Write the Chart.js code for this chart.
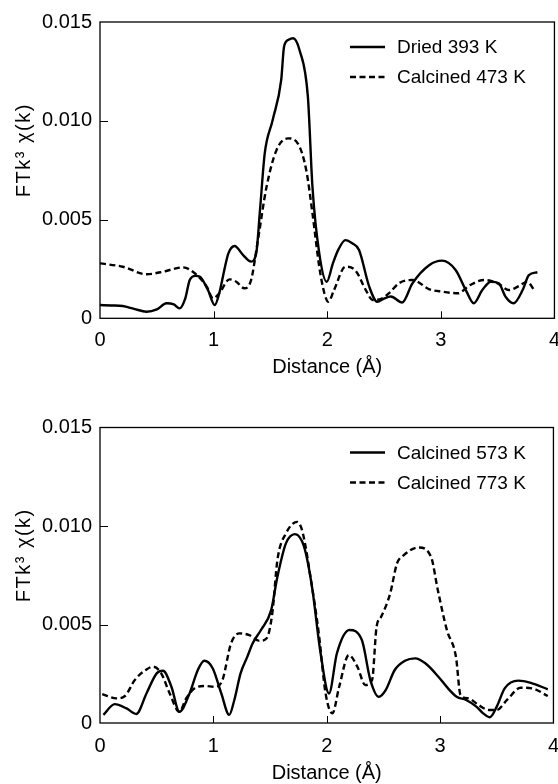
<!DOCTYPE html>
<html>
<head>
<meta charset="utf-8">
<script src="https://cdn.jsdelivr.net/npm/chart.js@4.4.0/dist/chart.umd.min.js"></script>
<style>
  html, body { margin: 0; padding: 0; background: #fff; overflow: hidden; }
  body { width: 558px; height: 784px; position: relative; }
  canvas { position: absolute; left: 0; }
  #chartTop { top: 0; }
  #chartBottom { top: 392px; }
</style>
</head>
<body>
<canvas id="chartTop" width="570" height="392"></canvas>
<canvas id="chartBottom" width="570" height="400"></canvas>
<script>
// values, distance in Å
const dried393Dist = [0, 0.1, 0.2, 0.3, 0.41, 0.5, 0.585, 0.65, 0.70, 0.75, 0.79, 0.84, 0.88, 0.95, 1.01, 1.05, 1.1, 1.13, 1.185, 1.26, 1.33, 1.375, 1.41, 1.45, 1.52, 1.595, 1.62, 1.66, 1.70, 1.756, 1.83, 1.87, 1.93, 1.996, 2.05, 2.1, 2.16, 2.22, 2.28, 2.37, 2.44, 2.5, 2.56, 2.66, 2.75, 2.9, 3.01, 3.13, 3.22, 3.29, 3.365, 3.44, 3.51, 3.57, 3.64, 3.72, 3.775, 3.85]
const dried393Val = [0.00067, 0.00065, 0.00062, 0.00048, 0.00033, 0.00045, 0.00076, 0.00070, 0.00050, 0.00100, 0.00194, 0.00215, 0.00210, 0.00143, 0.00067, 0.00127, 0.00260, 0.00329, 0.00366, 0.00320, 0.00287, 0.00329, 0.00560, 0.00835, 0.01004, 0.01207, 0.01375, 0.01410, 0.01418, 0.01358, 0.01120, 0.00666, 0.00329, 0.00185, 0.00278, 0.00350, 0.00396, 0.00380, 0.00346, 0.00160, 0.00084, 0.00100, 0.00110, 0.00080, 0.00177, 0.00270, 0.00292, 0.00245, 0.00143, 0.00076, 0.00143, 0.00185, 0.00177, 0.00109, 0.00076, 0.00143, 0.00219, 0.00233]

const calc473Dist = [0, 0.2, 0.41, 0.556, 0.65, 0.73, 0.834, 0.94, 0.995, 1.05, 1.14, 1.2, 1.27, 1.33, 1.39, 1.466, 1.554, 1.655, 1.74, 1.815, 1.87, 1.93, 1.975, 2.01, 2.06, 2.16, 2.25, 2.34, 2.4, 2.48, 2.55, 2.63, 2.75, 2.9, 3.01, 3.15, 3.26, 3.38, 3.50, 3.60, 3.69, 3.76, 3.83]
const calc473Val = [0.00278, 0.00261, 0.00223, 0.00236, 0.00250, 0.00258, 0.00228, 0.00160, 0.00101, 0.00127, 0.00197, 0.00185, 0.00152, 0.00194, 0.00396, 0.00666, 0.00852, 0.00911, 0.00886, 0.00751, 0.00532, 0.00261, 0.00127, 0.00084, 0.00143, 0.00261, 0.00241, 0.00143, 0.00093, 0.00100, 0.00130, 0.00177, 0.00194, 0.00147, 0.00135, 0.00127, 0.00169, 0.00194, 0.00177, 0.00143, 0.00164, 0.00185, 0.00135]

const calc573Dist = [0.03, 0.13, 0.234, 0.32, 0.41, 0.5, 0.556, 0.63, 0.70, 0.79, 0.863, 0.92, 0.995, 1.07, 1.14, 1.185, 1.24, 1.30, 1.346, 1.42, 1.51, 1.565, 1.64, 1.72, 1.80, 1.87, 1.946, 2.02, 2.09, 2.2, 2.31, 2.385, 2.46, 2.52, 2.6, 2.69, 2.78, 2.87, 2.985, 3.07, 3.146, 3.23, 3.32, 3.38, 3.44, 3.50, 3.57, 3.69, 3.80, 3.95]
const calc573Val = [0.00041, 0.00096, 0.00074, 0.00046, 0.00150, 0.00252, 0.00265, 0.00184, 0.00057, 0.00150, 0.00269, 0.00316, 0.00277, 0.00150, 0.00041, 0.00117, 0.00252, 0.00337, 0.00404, 0.00472, 0.00573, 0.00742, 0.00912, 0.00959, 0.00895, 0.00692, 0.00354, 0.00150, 0.00354, 0.00472, 0.00421, 0.00218, 0.00133, 0.00167, 0.00269, 0.00316, 0.00328, 0.00303, 0.00235, 0.00176, 0.00133, 0.00117, 0.00083, 0.00049, 0.00029, 0.00083, 0.00176, 0.00215, 0.00204, 0.00171]

const calc773Dist = [0.02, 0.146, 0.22, 0.307, 0.41, 0.47, 0.54, 0.615, 0.70, 0.76, 0.834, 0.92, 1.02, 1.08, 1.156, 1.23, 1.317, 1.405, 1.47, 1.52, 1.565, 1.64, 1.74, 1.786, 1.87, 1.93, 1.99, 2.05, 2.11, 2.195, 2.27, 2.34, 2.40, 2.44, 2.48, 2.56, 2.62, 2.68, 2.81, 2.92, 2.98, 3.06, 3.14, 3.18, 3.25, 3.34, 3.43, 3.50, 3.59, 3.71, 3.81, 3.95]
const calc773Val = [0.00147, 0.00125, 0.00137, 0.00218, 0.00272, 0.00286, 0.00252, 0.00150, 0.00057, 0.00125, 0.00176, 0.00188, 0.00184, 0.00218, 0.00404, 0.00455, 0.00446, 0.00417, 0.00430, 0.00557, 0.00827, 0.00962, 0.01021, 0.00971, 0.00692, 0.00455, 0.00150, 0.00049, 0.00184, 0.00345, 0.00286, 0.00193, 0.00218, 0.00489, 0.00539, 0.00658, 0.00810, 0.00852, 0.00891, 0.00844, 0.00675, 0.00472, 0.00336, 0.00142, 0.00125, 0.00091, 0.00066, 0.00066, 0.00117, 0.00179, 0.00176, 0.00137]

const xTitle = 'Distance (Å)'
const yTitle = 'FTk³ χ(k)'
const fontFamily = '"Liberation Sans", Arial, Helvetica, sans-serif'

Chart.defaults.font.family = fontFamily
Chart.defaults.font.size = 20
Chart.defaults.color = '#000'

function points(xs, ys) {
  return xs.map((d, i) => ({x: d, y: ys[i]}))
}

function series(label, xs, ys, dashed) {
  return {
    label: label,
    data: points(xs, ys),
    borderColor: '#000',
    borderWidth: 2.4,
    borderDash: dashed ? [6, 3.5] : [],
    pointRadius: 0,
    fill: false,
    cubicInterpolationMode: 'monotone'
  }
}

// frame, inward ticks, rotated y title and the legend inside the plot
const decor = {
  id: 'decor',
  afterDatasetsDraw(chart) {
    const {ctx, chartArea: a} = chart
    const xs = chart.scales.x
    const ys = chart.scales.y
    ctx.save()
    ctx.strokeStyle = '#000'
    ctx.lineWidth = 1.3
    ctx.setLineDash([])
    ctx.strokeRect(a.left, a.top, a.right - a.left, a.bottom - a.top)

    ctx.lineWidth = 1
    ctx.beginPath()
    xs.ticks.forEach(t => {
      if (t.value <= xs.min || t.value >= xs.max) return
      const px = Math.round(xs.getPixelForValue(t.value)) + 0.5
      ctx.moveTo(px, a.bottom)
      ctx.lineTo(px, a.bottom - 7)
    })
    ys.ticks.forEach(t => {
      if (t.value <= ys.min || t.value >= ys.max - 1e-9) return
      const py = Math.round(ys.getPixelForValue(t.value)) + 0.5
      ctx.moveTo(a.left, py)
      ctx.lineTo(a.left + 8, py)
    })
    ctx.stroke()

    ctx.fillStyle = '#000'
    ctx.font = '20px ' + fontFamily
    ctx.textAlign = 'center'
    ctx.textBaseline = 'middle'
    ctx.save()
    ctx.letterSpacing = '1.5px'
    ctx.translate(24, (a.top + a.bottom) / 2 - 20)
    ctx.rotate(-Math.PI / 2)
    ctx.fillText(yTitle, 0, 0)
    ctx.restore()

    ctx.font = '19px ' + fontFamily
    ctx.textAlign = 'left'
    chart.data.datasets.forEach((ds, i) => {
      const ly = a.top + 25 + i * 30
      ctx.lineWidth = ds.borderWidth
      ctx.setLineDash(ds.borderDash)
      ctx.beginPath()
      ctx.moveTo(a.left + 250, ly)
      ctx.lineTo(a.left + 285, ly)
      ctx.stroke()
      ctx.setLineDash([])
      ctx.fillText(ds.label, a.left + 297, ly + 1)
    })
    ctx.restore()
  }
}

function makeChart(id, datasets, pad, xHeight, tickPad) {
  return new Chart(id, {
    type: 'line',
    data: {datasets: datasets},
    options: {
      responsive: false,
      animation: false,
      layout: {padding: pad},
      plugins: {legend: {display: false}, tooltip: {enabled: false}},
      scales: {
        x: {
          type: 'linear',
          min: 0,
          max: 4,
          ticks: {stepSize: 1, padding: tickPad, maxRotation: 0, autoSkip: false},
          grid: {display: false, drawTicks: false},
          border: {display: false},
          title: {display: true, text: xTitle, padding: 0},
          afterFit: s => { s.height = xHeight }
        },
        y: {
          min: 0,
          max: 0.015,
          ticks: {
            stepSize: 0.005,
            padding: 8,
            callback: v => v === 0 ? '0' : v.toFixed(3)
          },
          grid: {display: false, drawTicks: false},
          border: {display: false},
          afterFit: s => { s.width = 100 }
        }
      }
    },
    plugins: [decor]
  })
}

makeChart('chartTop', [
  series('Dried 393 K', dried393Dist, dried393Val, false),
  series('Calcined 473 K', calc473Dist, calc473Val, true)
], {top: 22, right: 14, bottom: 12.5, left: 0}, 61.2, 10)

makeChart('chartBottom', [
  series('Calcined 573 K', calc573Dist, calc573Val, false),
  series('Calcined 773 K', calc773Dist, calc773Val, true)
], {top: 35.5, right: 14.5, bottom: 7, left: 0}, 62, 11)
</script>
</body>
</html>
